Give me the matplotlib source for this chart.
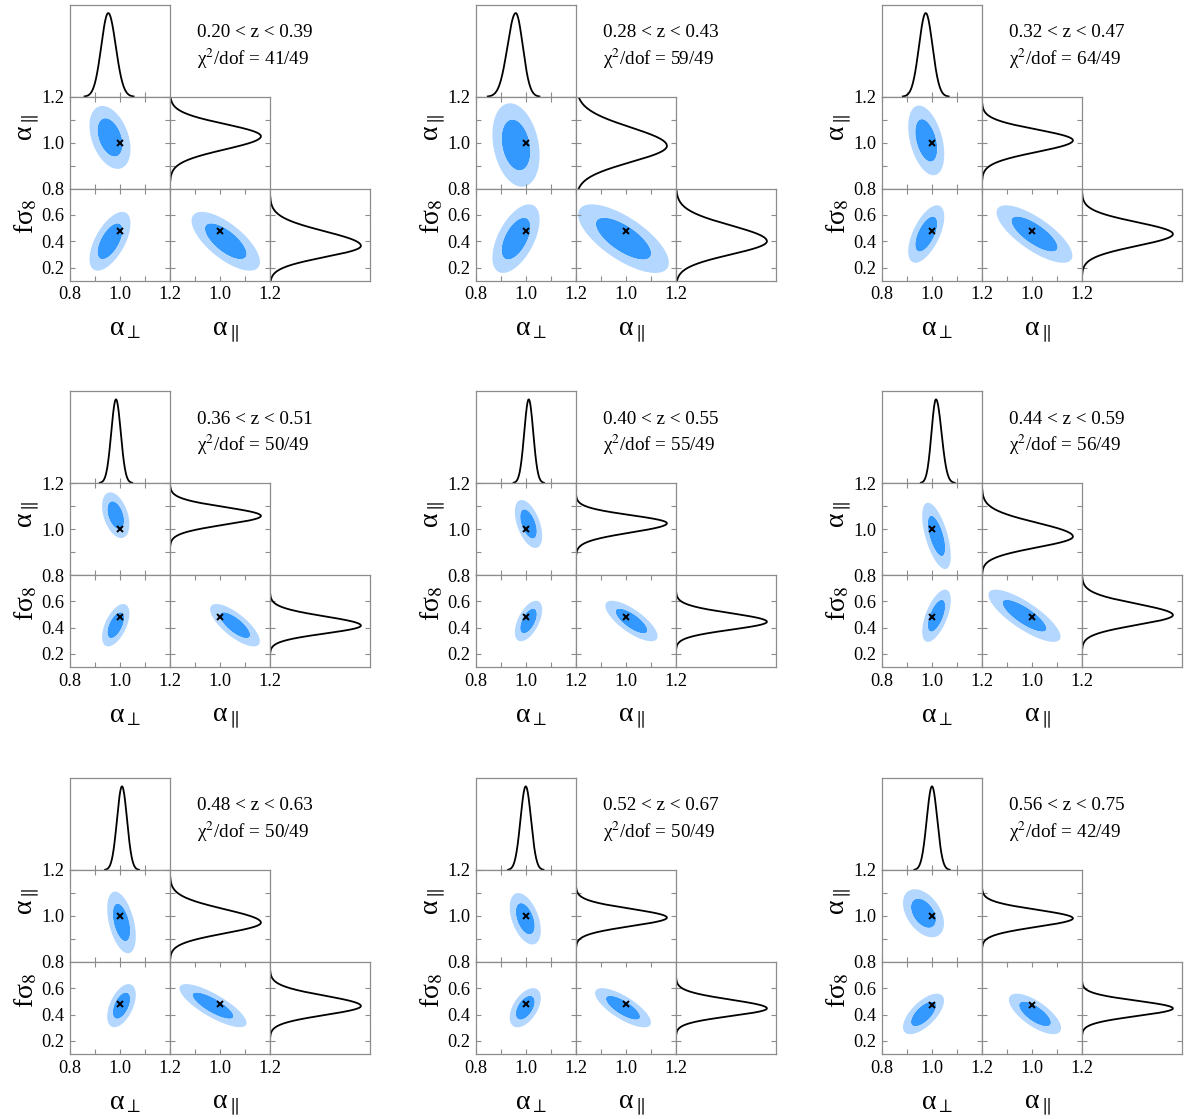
import numpy as np
import matplotlib
matplotlib.use('Agg')
import matplotlib.pyplot as plt
from matplotlib.ticker import FixedLocator, FixedFormatter

plt.rcParams['font.family'] = ['Liberation Serif', 'DejaVu Serif']
plt.rcParams['mathtext.fontset'] = 'stix'

# ---------------- data ----------------
z_lo = ['0.20', '0.28', '0.32', '0.36', '0.40', '0.44', '0.48', '0.52', '0.56']
z_hi = ['0.39', '0.43', '0.47', '0.51', '0.55', '0.59', '0.63', '0.67', '0.75']
chi2_vals = [41, 59, 64, 50, 55, 56, 50, 50, 42]
dof_vals = [49, 49, 49, 49, 49, 49, 49, 49, 49]

# 2D posterior: centres, widths, correlations
c_perp = [0.960, 0.960, 0.977, 0.983, 1.010, 1.018, 1.006, 0.997, 0.966]
c_par = [1.023, 0.990, 1.010, 1.060, 1.022, 0.970, 0.972, 0.988, 1.012]
c_fs8 = [0.400, 0.420, 0.455, 0.418, 0.450, 0.490, 0.468, 0.452, 0.405]
s_perp = [0.033, 0.038, 0.029, 0.022, 0.022, 0.023, 0.023, 0.025, 0.033]
s_par = [0.055, 0.073, 0.061, 0.040, 0.042, 0.058, 0.054, 0.045, 0.042]
s_fs8 = [0.090, 0.105, 0.088, 0.065, 0.062, 0.080, 0.066, 0.060, 0.062]
r_perp_par = [-0.37, -0.25, -0.40, -0.40, -0.50, -0.60, -0.45, -0.45, -0.42]
r_perp_fs8 = [0.60, 0.55, 0.60, 0.55, 0.55, 0.60, 0.50, 0.50, 0.65]
r_par_fs8 = [-0.70, -0.70, -0.75, -0.75, -0.75, -0.80, -0.80, -0.75, -0.70]

# 1D marginals: peak, lower width, upper width
pk_perp = [0.953, 0.959, 0.975, 0.984, 1.011, 1.016, 1.008, 0.999, 1.000]
lo_perp = [0.028, 0.033, 0.027, 0.019, 0.018, 0.018, 0.020, 0.021, 0.021]
hi_perp = [0.030, 0.028, 0.027, 0.019, 0.018, 0.022, 0.020, 0.021, 0.021]
pk_par = [1.028, 0.986, 1.010, 1.057, 1.025, 0.967, 0.971, 0.993, 0.990]
lo_par = [0.057, 0.070, 0.050, 0.038, 0.040, 0.047, 0.046, 0.037, 0.037]
hi_par = [0.053, 0.080, 0.047, 0.038, 0.035, 0.060, 0.058, 0.038, 0.037]
pk_fs8 = [0.365, 0.400, 0.455, 0.415, 0.444, 0.495, 0.465, 0.447, 0.447]
lo_fs8 = [0.085, 0.100, 0.090, 0.060, 0.060, 0.075, 0.068, 0.058, 0.058]
hi_fs8 = [0.110, 0.120, 0.090, 0.070, 0.065, 0.085, 0.078, 0.066, 0.058]

# fiducial point
fid_perp = [1.0, 1.0, 1.0, 1.0, 1.0, 1.0, 1.0, 1.0, 1.0]
fid_par = [1.0, 1.0, 1.0, 1.0, 1.0, 1.0, 1.0, 1.0, 1.0]
fid_fs8 = [0.48, 0.48, 0.48, 0.48, 0.48, 0.48, 0.48, 0.48, 0.475]

alpha_ticks = [0.8, 0.9, 1.0, 1.1, 1.2]
alpha_ticklabels = ['0.8', '', '1.0', '', '1.2']
fs8_ticks = [0.2, 0.4, 0.6]
fs8_ticklabels = ['0.2', '0.4', '0.6']

# ---------------- style / layout ----------------
W, H = 1192, 1119
DARK = '#3399ff'
LIGHT = '#b3d7ff'
SPINE = '#8c8c8c'
ALIM = (0.8, 1.2)
FLIM = (0.1, 0.8)
PW, PH = 100, 92
col_left = [70, 476, 882]
row_top = [4.7, 391, 778]
TICKFS = 13.2
LABFS = 20
TXTFS = 13.8

fig = plt.figure(figsize=(W / 100, H / 100), dpi=100)


def add_ax(x, y, w=PW, h=PH):
    return fig.add_axes([x / W, 1 - (y + h) / H, w / W, h / H])


def style(ax):
    for s in ax.spines.values():
        s.set_color(SPINE)
        s.set_linewidth(0.9)
    ax.tick_params(direction='in', length=3.5, width=0.8, color=SPINE,
                   labelsize=TICKFS, labelcolor='black', pad=4)


def split_normal(x, p, lo, hi):
    s = np.where(x < p, lo, hi)
    f = np.exp(-0.5 * ((x - p) / s) ** 2)
    f[f < 0.003] = np.nan
    return f


def filled(ax, xg, yg, mx, my, sx, sy, r):
    X, Y = np.meshgrid(xg, yg)
    zx = (X - mx) / sx
    zy = (Y - my) / sy
    d2 = (zx ** 2 - 2 * r * zx * zy + zy ** 2) / (1 - r ** 2)
    ax.contourf(X, Y, d2, levels=[0, 2.30, 6.17], colors=[DARK, LIGHT],
                antialiased=True)


def fx(x):
    return x / W


def fy(y):
    return 1 - y / H


xa = np.linspace(ALIM[0], ALIM[1], 400)
xf = np.linspace(FLIM[0], FLIM[1], 400)

for k in range(9):
    L = col_left[k % 3]
    T = row_top[k // 3]

    # top-left: 1D alpha_perp
    a00 = add_ax(L, T)
    style(a00)
    a00.plot(xa, split_normal(xa, pk_perp[k], lo_perp[k], hi_perp[k]),
             color='black', lw=1.3)
    a00.set_xlim(*ALIM)
    a00.set_ylim(0, 1.1)
    a00.xaxis.set_major_locator(FixedLocator([0.9, 1.0, 1.1]))
    a00.tick_params(labelbottom=False, left=False, labelleft=False)
    a00.set_yticks([])

    # middle-left: alpha_perp vs alpha_par
    a10 = add_ax(L, T + PH)
    style(a10)
    filled(a10, xa, xa, c_perp[k], c_par[k], s_perp[k], s_par[k], r_perp_par[k])
    a10.plot(fid_perp[k], fid_par[k], marker='x', color='black', ms=4.5, mew=1.4)
    a10.set_xlim(*ALIM)
    a10.set_ylim(*ALIM)
    a10.xaxis.set_major_locator(FixedLocator(alpha_ticks))
    a10.yaxis.set_major_locator(FixedLocator(alpha_ticks))
    a10.yaxis.set_major_formatter(FixedFormatter(alpha_ticklabels))
    a10.tick_params(top=True, right=True, labelbottom=False)

    # middle-middle: 1D alpha_par (horizontal)
    a11 = add_ax(L + PW, T + PH)
    style(a11)
    a11.plot(split_normal(xa, pk_par[k], lo_par[k], hi_par[k]), xa,
             color='black', lw=1.3)
    a11.set_xlim(0, 1.1)
    a11.set_ylim(*ALIM)
    a11.set_xticks([])
    a11.yaxis.set_major_locator(FixedLocator([0.9, 1.0, 1.1]))
    a11.tick_params(right=True, labelleft=False)

    # bottom-left: alpha_perp vs f sigma8
    a20 = add_ax(L, T + 2 * PH)
    style(a20)
    filled(a20, xa, xf, c_perp[k], c_fs8[k], s_perp[k], s_fs8[k], r_perp_fs8[k])
    a20.plot(fid_perp[k], fid_fs8[k], marker='x', color='black', ms=4.5, mew=1.4)
    a20.set_xlim(*ALIM)
    a20.set_ylim(*FLIM)
    a20.xaxis.set_major_locator(FixedLocator(alpha_ticks))
    a20.xaxis.set_major_formatter(FixedFormatter(alpha_ticklabels))
    a20.yaxis.set_major_locator(FixedLocator(fs8_ticks))
    a20.yaxis.set_major_formatter(FixedFormatter(fs8_ticklabels))
    a20.tick_params(top=True, right=True)

    # bottom-middle: alpha_par vs f sigma8
    a21 = add_ax(L + PW, T + 2 * PH)
    style(a21)
    filled(a21, xa, xf, c_par[k], c_fs8[k], s_par[k], s_fs8[k], r_par_fs8[k])
    a21.plot(fid_par[k], fid_fs8[k], marker='x', color='black', ms=4.5, mew=1.4)
    a21.set_xlim(*ALIM)
    a21.set_ylim(*FLIM)
    a21.xaxis.set_major_locator(FixedLocator(alpha_ticks))
    a21.xaxis.set_major_formatter(FixedFormatter([''] + alpha_ticklabels[1:]))
    a21.yaxis.set_major_locator(FixedLocator(fs8_ticks))
    a21.tick_params(top=True, right=True, labelleft=False)

    # bottom-right: 1D f sigma8 (horizontal)
    a22 = add_ax(L + 2 * PW, T + 2 * PH)
    style(a22)
    a22.plot(split_normal(xf, pk_fs8[k], lo_fs8[k], hi_fs8[k]), xf,
             color='black', lw=1.3)
    a22.set_xlim(0, 1.1)
    a22.set_ylim(*FLIM)
    a22.set_xticks([])
    a22.yaxis.set_major_locator(FixedLocator(fs8_ticks))
    a22.tick_params(right=True, labelleft=False)

    # annotations
    fig.text(fx(L + PW + 27), fy(T + 28),
             z_lo[k] + ' < z < ' + z_hi[k],
             fontsize=TXTFS, ha='left', va='center')
    fig.text(fx(L + PW + 27), fy(T + 54),
             'χ$^2$/dof = %d/%d' % (chi2_vals[k], dof_vals[k]),
             fontsize=TXTFS, ha='left', va='center')

    # axis labels
    fig.text(fx(L + 55), fy(T + 331), 'α$_{\\perp}$',
             fontsize=LABFS, ha='center', va='baseline')
    fig.text(fx(L + 156), fy(T + 331), 'α$_{\\parallel}$',
             fontsize=LABFS, ha='center', va='baseline')
    fig.text(fx(L - 37), fy(T + 123), 'α$_{\\parallel}$',
             fontsize=LABFS, ha='center', va='baseline', rotation=90,
             rotation_mode='anchor')
    fig.text(fx(L - 37), fy(T + 212), 'fσ$_8$',
             fontsize=LABFS, ha='center', va='baseline', rotation=90,
             rotation_mode='anchor')

fig.savefig('out.png', dpi=100)
